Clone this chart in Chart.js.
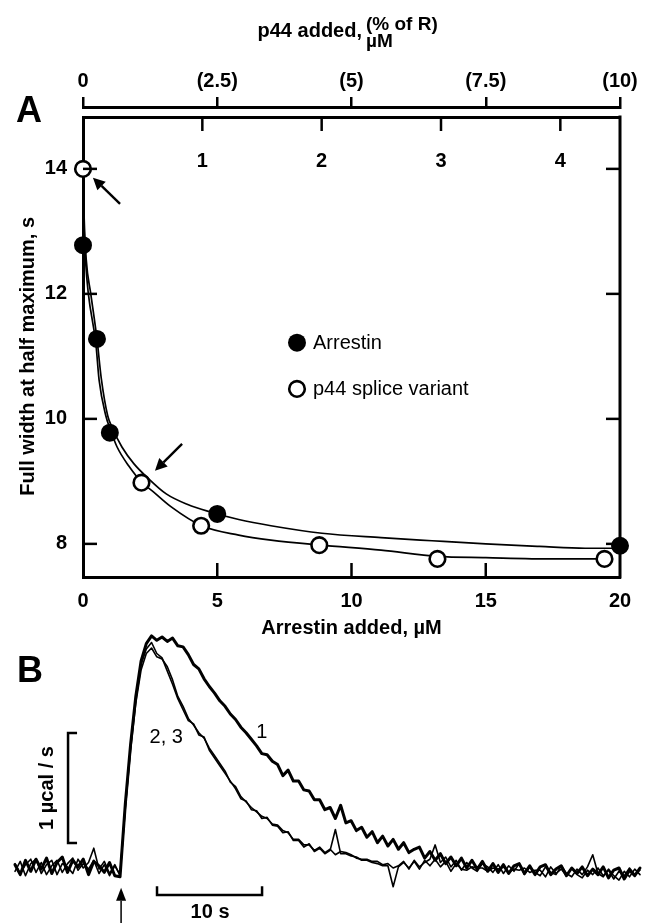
<!DOCTYPE html>
<html>
<head>
<meta charset="utf-8">
<script src="https://cdn.jsdelivr.net/npm/chart.js@4.4.1/dist/chart.umd.min.js"></script>
<style>
  html, body { margin: 0; padding: 0; background: #fff; }
  #wrap { position: relative; width: 649px; height: 923px; }
  #chartA { position: absolute; left: 0; top: 0; }
  #chartB { position: absolute; left: 0; top: 620px; }
</style>
</head>
<body>
<div id="wrap">
  <canvas id="chartA" width="649" height="640"></canvas>
  <canvas id="chartB" width="649" height="303"></canvas>
</div>
<script>
// ---- panel A data ----
const arrestinX = [0, 0.52, 1.0, 5.0, 20];
const arrestinY = [12.78, 11.28, 9.78, 8.48, 7.97];
// p44 is plotted against the top uM axis
const p44X = [0, 0.49, 0.99, 1.98, 2.97, 4.37];
const p44Y = [14.0, 8.98, 8.29, 7.98, 7.76, 7.76];

// fitted curves (arrestin axis units)
const fitArrX = [0, 0.04, 0.12, 0.29, 0.52, 0.68, 0.92, 1.1, 1.45, 1.9, 2.4, 3.1, 3.9, 4.75, 5.8, 7.0, 8.9, 11.1, 13, 15, 17, 18.7, 20];
const fitArrY = [14, 13.25, 12.55, 12.0, 11.28, 10.65, 10.05, 9.85, 9.55, 9.28, 9.06, 8.8, 8.63, 8.51, 8.39, 8.29, 8.17, 8.1, 8.05, 8.0, 7.96, 7.93, 7.93];
const fitP44X = [0, 0.03, 0.1, 0.2, 0.48, 0.6, 0.85, 1.0, 1.27, 1.7, 2.2, 2.6, 3.26, 4.42, 5.8, 7.0, 8.84, 11.1, 13.2, 15, 17.5, 19.5];
const fitP44Y = [14, 13.2, 12.5, 12.0, 11.2, 10.62, 10.05, 9.85, 9.55, 9.25, 8.98, 8.84, 8.6, 8.29, 8.14, 8.06, 7.98, 7.9, 7.8, 7.78, 7.76, 7.76];

const yTicks = [8, 10, 12, 14];
const arrTicks = [0, 5, 10, 15, 20];
const umTicks = [1, 2, 3, 4];
const pctTicks = [0, 2.5, 5, 7.5, 10];
const pctLabels = ['0', '(2.5)', '(5)', '(7.5)', '(10)'];

// ---- panel B data (µcal/s vs s) ----
const tSec = [
  0, 0.5, 1, 1.5, 2, 2.5, 3, 3.5, 4, 4.5, 5, 5.5, 6, 6.5, 7, 7.5, 8, 8.5, 9, 9.5,
  10, 10.5, 11, 11.5, 12, 12.5, 13, 13.5, 14, 14.5, 15, 15.5, 16, 16.5, 17, 17.5, 18, 18.5, 19, 19.5,
  20, 20.5, 21, 21.5, 22, 22.5, 23, 23.5, 24, 24.5, 25, 25.5, 26, 26.5, 27, 27.5, 28, 28.5, 29, 29.5,
  30, 30.5, 31, 31.5, 32, 32.5, 33, 33.5, 34, 34.5, 35, 35.5, 36, 36.5, 37, 37.5, 38, 38.5, 39, 39.5,
  40, 40.5, 41, 41.5, 42, 42.5, 43, 43.5, 44, 44.5, 45, 45.5, 46, 46.5, 47, 47.5, 48, 48.5, 49, 49.5,
  50, 50.5, 51, 51.5, 52, 52.5, 53, 53.5, 54, 54.5, 55, 55.5, 56, 56.5, 57, 57.5, 58, 58.5, 59, 59.5
];
const trace1 = [
  0.03, -0.06, 0.07, -0.03, 0.08, -0.01, 0.09, -0.05, 0.05, 0.10, -0.04, 0.07, 0.01, 0.08, -0.06, 0.06, 0.02, -0.04, 0.05, -0.07,
  -0.08, 0.58, 1.12, 1.56, 1.88, 2.04, 2.11, 2.07, 2.10, 2.06, 2.09, 2.02, 2.01, 1.94, 1.85, 1.81, 1.72, 1.65, 1.59, 1.52,
  1.47, 1.40, 1.35, 1.28, 1.23, 1.17, 1.11, 1.04, 1.03, 0.97, 0.94, 0.84, 0.89, 0.79, 0.79, 0.71, 0.70, 0.62, 0.62, 0.53,
  0.55, 0.45, 0.57, 0.41, 0.43, 0.34, 0.37, 0.28, 0.33, 0.23, 0.29, 0.20, 0.26, 0.17, 0.23, 0.14, 0.17, 0.19, 0.09, 0.15,
  0.07, 0.13, 0.04, 0.10, 0.02, 0.09, 0.00, 0.07, -0.01, 0.06, -0.03, 0.04, -0.04, 0.03, -0.05, 0.02, 0.04, -0.05, 0.02, -0.06,
  0.01, 0.03, -0.06, -0.01, 0.02, -0.07, 0.00, -0.05, 0.01, -0.07, -0.01, -0.06, 0.01, -0.09, -0.02, 0.00, -0.10, -0.02, -0.07, 0.00
];
const trace2 = [
  -0.03, 0.06, -0.07, 0.04, 0.08, -0.05, 0.03, 0.07, -0.06, 0.04, 0.01, -0.05, 0.08, 0.00, 0.05, 0.18, -0.01, 0.06, -0.05, 0.03,
  -0.07, 0.54, 1.07, 1.50, 1.80, 1.95, 2.00, 1.92, 1.90, 1.83, 1.71, 1.56, 1.47, 1.36, 1.30, 1.23, 1.18, 1.09, 1.02, 0.95,
  0.88, 0.78, 0.74, 0.65, 0.60, 0.55, 0.51, 0.47, 0.45, 0.40, 0.39, 0.34, 0.32, 0.26, 0.26, 0.21, 0.21, 0.16, 0.19, 0.14,
  0.17, 0.12, 0.15, 0.14, 0.12, 0.09, 0.08, 0.08, 0.06, 0.06, 0.03, 0.04, 0.00, 0.02, 0.06, -0.01, 0.07, 0.01, 0.05, 0.08,
  0.21, 0.05, 0.10, 0.01, 0.07, -0.02, 0.05, 0.00, -0.03, 0.04, 0.01, -0.04, 0.03, -0.05, 0.02, -0.03, 0.04, -0.06, 0.01, -0.04,
  -0.07, 0.01, -0.04, -0.06, 0.02, -0.05, -0.08, -0.01, -0.06, 0.01, 0.12, -0.05, -0.08, -0.01, -0.07, -0.11, -0.03, -0.08, -0.01, -0.06
];
const trace3 = [
  0.04, -0.05, 0.03, 0.08, -0.04, 0.05, -0.06, 0.02, 0.07, -0.04, 0.04, 0.09, -0.02, 0.04, -0.01, 0.07, -0.05, 0.03, -0.07, 0.02,
  -0.06, 0.56, 1.10, 1.54, 1.85, 1.99, 2.05, 1.95, 1.91, 1.79, 1.67, 1.54, 1.44, 1.34, 1.31, 1.21, 1.19, 1.07, 1.00, 0.93,
  0.86, 0.79, 0.72, 0.63, 0.61, 0.53, 0.52, 0.45, 0.46, 0.39, 0.38, 0.32, 0.33, 0.25, 0.25, 0.19, 0.22, 0.15, 0.18, 0.13,
  0.16, 0.35, 0.13, 0.13, 0.11, 0.10, 0.07, 0.07, 0.05, 0.04, 0.02, 0.02, -0.17, 0.01, 0.05, 0.00, 0.06, -0.01, 0.07, 0.02,
  0.08, 0.01, 0.06, -0.03, 0.04, -0.01, -0.02, 0.01, 0.00, 0.00, -0.03, 0.00, -0.01, 0.01, -0.04, -0.01, -0.02, 0.00, -0.04, -0.02,
  -0.02, -0.08, 0.01, -0.05, -0.01, -0.07, 0.00, -0.06, -0.09, -0.02, -0.06, 0.00, -0.07, -0.02, -0.10, -0.03, -0.07, 0.00, -0.06, -0.02
];

const FONT = '"Liberation Sans", Arial, Helvetica, sans-serif';
Chart.defaults.font.family = FONT;
Chart.defaults.color = '#000';

const pts = (xs, ys) => xs.map((x, i) => ({ x: x, y: ys[i] }));
const fixTicks = list => axis => { axis.ticks = list.map(v => ({ value: v })); };
const bold20 = { size: 20, weight: 'bold' };

function seg(ctx, x0, y0, x1, y1) {
  ctx.beginPath(); ctx.moveTo(x0, y0); ctx.lineTo(x1, y1); ctx.stroke();
}
function arrow(ctx, x0, y0, x1, y1, head, half) {
  const a = Math.atan2(y1 - y0, x1 - x0);
  const bx = x1 - head * Math.cos(a), by = y1 - head * Math.sin(a);
  seg(ctx, x0, y0, bx, by);
  ctx.beginPath();
  ctx.moveTo(x1, y1);
  ctx.lineTo(bx + half * Math.sin(a), by - half * Math.cos(a));
  ctx.lineTo(bx - half * Math.sin(a), by + half * Math.cos(a));
  ctx.closePath(); ctx.fill();
}

// frame, inward ticks, arrows, legend and titles of panel A
const panelA = {
  id: 'panelA',
  afterDraw(chart) {
    const { ctx, chartArea: ca, scales } = chart;
    const x = scales.x, x2 = scales.x2, y = scales.y;
    ctx.save();
    ctx.strokeStyle = '#000';
    ctx.fillStyle = '#000';
    ctx.lineWidth = 3;
    seg(ctx, ca.right, ca.top - 1.5, ca.right, ca.bottom + 1.5);

    ctx.lineWidth = 2.5;
    yTicks.forEach(v => {
      const py = y.getPixelForValue(v);
      seg(ctx, ca.left, py, ca.left + 14, py);
      seg(ctx, ca.right - 14, py, ca.right, py);
    });
    arrTicks.slice(1, -1).forEach(v => {
      const px = x.getPixelForValue(v);
      seg(ctx, px, ca.bottom, px, ca.bottom - 14);
    });
    umTicks.forEach(v => {
      const px = x2.getPixelForValue(v);
      seg(ctx, px, ca.top, px, ca.top + 14);
    });

    // arrows pointing at the two p44 points
    ctx.lineWidth = 2.4;
    arrow(ctx, x.getPixelForValue(1.38), y.getPixelForValue(13.44), x.getPixelForValue(0.37), y.getPixelForValue(13.86), 12, 6);
    arrow(ctx, x.getPixelForValue(3.69), y.getPixelForValue(9.6), x.getPixelForValue(2.68), y.getPixelForValue(9.17), 12, 6);

    // legend
    const lx = x.getPixelForValue(7.97);
    const ly1 = y.getPixelForValue(11.22), ly2 = y.getPixelForValue(10.48);
    ctx.beginPath(); ctx.arc(lx, ly1, 9, 0, Math.PI * 2); ctx.fill();
    ctx.beginPath(); ctx.arc(lx, ly2, 7.8, 0, Math.PI * 2);
    ctx.fillStyle = '#fff'; ctx.fill(); ctx.lineWidth = 2.6; ctx.stroke();
    ctx.fillStyle = '#000';
    ctx.font = '20px ' + FONT;
    ctx.textAlign = 'left'; ctx.textBaseline = 'middle';
    ctx.fillText('Arrestin', lx + 16, ly1 + 1);
    ctx.fillText('p44 splice variant', lx + 16, ly2 + 1);

    // y title
    ctx.save();
    ctx.translate(28, y.getPixelForValue(11));
    ctx.rotate(-Math.PI / 2);
    ctx.font = 'bold 20px ' + FONT;
    ctx.textAlign = 'center';
    ctx.fillText('Full width at half maximum, s', 0, 0);
    ctx.restore();

    // top title
    ctx.font = 'bold 20px ' + FONT;
    ctx.textBaseline = 'alphabetic';
    ctx.textAlign = 'right';
    ctx.fillText('p44 added,', 362, 37);
    ctx.textAlign = 'left';
    ctx.font = 'bold 19px ' + FONT;
    ctx.fillText('(% of R)', 366, 30);
    ctx.fillText('\u00b5M', 366, 47);

    ctx.font = 'bold 36px ' + FONT;
    ctx.fillText('A', 16, 122);
    ctx.restore();
  }
};

new Chart(document.getElementById('chartA'), {
  type: 'scatter',
  data: {
    datasets: [
      { label: 'Arrestin', data: pts(arrestinX, arrestinY), xAxisID: 'x', yAxisID: 'y',
        pointRadius: 8, pointBackgroundColor: '#000', pointBorderColor: '#000', pointBorderWidth: 2, order: 0, clip: false },
      { label: 'p44 splice variant', data: pts(p44X, p44Y), xAxisID: 'x2', yAxisID: 'y',
        pointRadius: 7.8, pointBackgroundColor: '#fff', pointBorderColor: '#000', pointBorderWidth: 2.6, order: 0, clip: false },
      { label: 'fit arrestin', data: pts(fitArrX, fitArrY), xAxisID: 'x', yAxisID: 'y', showLine: true,
        pointRadius: 0, borderColor: '#000', borderWidth: 1.7, cubicInterpolationMode: 'monotone', order: 1, clip: false },
      { label: 'fit p44', data: pts(fitP44X, fitP44Y), xAxisID: 'x', yAxisID: 'y', showLine: true,
        pointRadius: 0, borderColor: '#000', borderWidth: 1.7, cubicInterpolationMode: 'monotone', order: 1, clip: false }
    ]
  },
  options: {
    responsive: false,
    animation: false,
    devicePixelRatio: 1,
    events: [],
    layout: { padding: { left: 0, right: 29, top: 0, bottom: 0 } },
    plugins: { legend: { display: false }, tooltip: { enabled: false } },
    scales: {
      x: {
        type: 'linear', position: 'bottom', min: 0, max: 20,
        afterBuildTicks: fixTicks(arrTicks),
        afterFit: s => { s.height = 63; },
        border: { display: true, color: '#000', width: 3 },
        grid: { drawOnChartArea: false, drawTicks: false },
        ticks: { font: bold20, padding: 12, maxRotation: 0, autoSkip: false },
        title: { display: true, text: 'Arrestin added, \u00b5M', font: bold20, padding: { top: 0, bottom: 0 } }
      },
      x2: {
        type: 'linear', position: 'top', weight: 1, min: 0, max: 4.5,
        afterBuildTicks: fixTicks(umTicks),
        afterFit: s => { s.height = 10; },
        border: { display: true, color: '#000', width: 3 },
        grid: { drawOnChartArea: false, drawTicks: false },
        ticks: { mirror: true, padding: 32, font: bold20, maxRotation: 0, autoSkip: false }
      },
      x3: {
        type: 'linear', position: 'top', weight: 2, min: 0, max: 10,
        afterBuildTicks: fixTicks(pctTicks),
        afterFit: s => { s.height = 107; },
        border: { display: true, color: '#000', width: 3 },
        grid: { drawOnChartArea: false, drawTicks: true, tickLength: 10, color: '#000', lineWidth: 2.5, tickColor: '#000', tickWidth: 2.5 },
        ticks: { padding: 4, font: bold20, maxRotation: 0, autoSkip: false, callback: (v, i) => pctLabels[i] }
      },
      y: {
        type: 'linear', position: 'left', min: 7.47, max: 14.83,
        afterBuildTicks: fixTicks(yTicks),
        afterFit: s => { s.width = 83; },
        border: { display: true, color: '#000', width: 3 },
        grid: { drawOnChartArea: false, drawTicks: false },
        ticks: { padding: 16, font: bold20 }
      }
    }
  },
  plugins: [panelA]
});

// scale bars, injection arrow and labels of panel B
const panelB = {
  id: 'panelB',
  afterDraw(chart) {
    const { ctx, scales } = chart;
    const X = v => scales.x.getPixelForValue(v), Y = v => scales.y.getPixelForValue(v);
    ctx.save();
    ctx.strokeStyle = '#000'; ctx.fillStyle = '#000';
    ctx.lineWidth = 2.5;
    // 1 µcal/s bar
    ctx.beginPath();
    ctx.moveTo(X(5.05) + 9, Y(1.227)); ctx.lineTo(X(5.05), Y(1.227));
    ctx.lineTo(X(5.05), Y(0.227)); ctx.lineTo(X(5.05) + 9, Y(0.227));
    ctx.stroke();
    // 10 s bar
    ctx.beginPath();
    ctx.moveTo(X(13.52), Y(-0.165)); ctx.lineTo(X(13.52), Y(-0.245));
    ctx.lineTo(X(23.52), Y(-0.245)); ctx.lineTo(X(23.52), Y(-0.165));
    ctx.stroke();
    // injection arrow
    ctx.lineWidth = 1.5;
    arrow(ctx, X(10.1), Y(-0.5), X(10.1), Y(-0.18), 13, 5);

    ctx.font = 'bold 20px ' + FONT;
    ctx.textAlign = 'center'; ctx.textBaseline = 'middle';
    ctx.fillText('10 s', X(18.57), Y(-0.4));
    ctx.save();
    ctx.translate(X(3.05), Y(0.727));
    ctx.rotate(-Math.PI / 2);
    ctx.fillText('1 \u00b5cal / s', 0, 0);
    ctx.restore();

    ctx.font = '20px ' + FONT;
    ctx.fillText('2, 3', X(14.4), Y(1.19));
    ctx.fillText('1', X(23.5), Y(1.23));

    ctx.font = 'bold 36px ' + FONT;
    ctx.textAlign = 'left'; ctx.textBaseline = 'alphabetic';
    ctx.fillText('B', X(0.19), Y(1.69));
    ctx.restore();
  }
};

const traceStyle = (w) => ({ showLine: true, pointRadius: 0, borderColor: '#000', borderWidth: w,
  borderJoinStyle: 'round', borderCapStyle: 'round', clip: false });

new Chart(document.getElementById('chartB'), {
  type: 'scatter',
  data: {
    datasets: [
      Object.assign({ label: '1', data: pts(tSec, trace1) }, traceStyle(3)),
      Object.assign({ label: '2', data: pts(tSec, trace2) }, traceStyle(1.6)),
      Object.assign({ label: '3', data: pts(tSec, trace3) }, traceStyle(1.6))
    ]
  },
  options: {
    responsive: false,
    animation: false,
    devicePixelRatio: 1,
    events: [],
    layout: { padding: { left: 15, right: 9, top: 6, bottom: 0 } },
    plugins: { legend: { display: false }, tooltip: { enabled: false } },
    scales: {
      x: { type: 'linear', min: 0, max: 59.5, display: false },
      y: { type: 'linear', min: -0.5, max: 2.2, display: false }
    }
  },
  plugins: [panelB]
});
</script>
</body>
</html>
